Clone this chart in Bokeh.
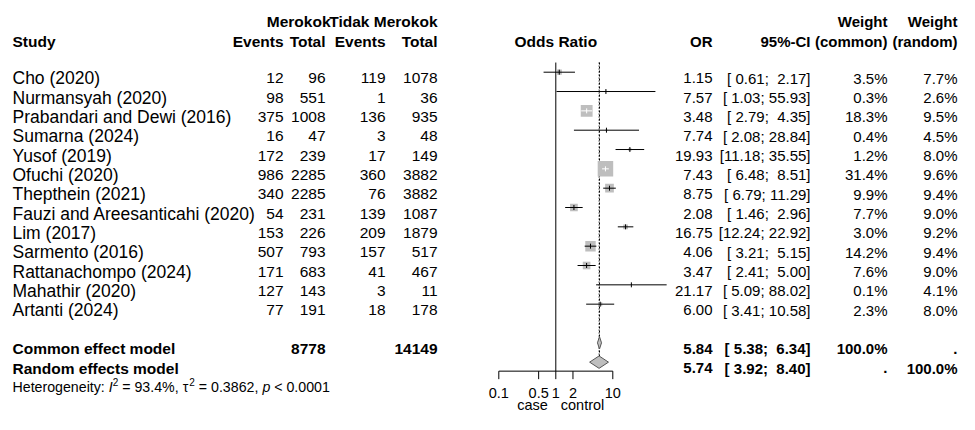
import numpy as np
from bokeh.plotting import figure
from bokeh.models import Range1d, LogScale
from bokeh.core.properties import value
from bokeh.embed import file_html
from bokeh.resources import INLINE

# ---------------- data ----------------
studies = ["Cho (2020)", "Nurmansyah (2020)", "Prabandari and Dewi (2016)", "Sumarna (2024)",
           "Yusof (2019)", "Ofuchi (2020)", "Thepthein (2021)", "Fauzi and Areesanticahi (2020)",
           "Lim (2017)", "Sarmento (2016)", "Rattanachompo (2024)", "Mahathir (2020)", "Artanti (2024)"]
events_e = [12, 98, 375, 16, 172, 986, 340, 54, 153, 507, 171, 127, 77]
total_e = [96, 551, 1008, 47, 239, 2285, 2285, 231, 226, 793, 683, 143, 191]
events_c = [119, 1, 136, 3, 17, 360, 76, 139, 209, 157, 41, 3, 18]
total_c = [1078, 36, 935, 48, 149, 3882, 3882, 1087, 1879, 517, 467, 11, 178]
odds = [1.15, 7.57, 3.48, 7.74, 19.93, 7.43, 8.75, 2.08, 16.75, 4.06, 3.47, 21.17, 6.00]
ci_low = [0.61, 1.03, 2.79, 2.08, 11.18, 6.48, 6.79, 1.46, 12.24, 3.21, 2.41, 5.09, 3.41]
ci_high = [2.17, 55.93, 4.35, 28.84, 35.55, 8.51, 11.29, 2.96, 22.92, 5.15, 5.00, 88.02, 10.58]
weight_common = [3.5, 0.3, 18.3, 0.4, 1.2, 31.4, 9.9, 7.7, 3.0, 14.2, 7.6, 0.1, 2.3]
weight_random = [7.7, 2.6, 9.5, 4.5, 8.0, 9.6, 9.4, 9.0, 9.2, 9.4, 9.0, 4.1, 8.0]

common_model = [5.84, 5.38, 6.34]   # OR, lower, upper
random_model = [5.74, 3.92, 8.40]
het_i2 = "93.4%"
het_tau2 = "0.3862"
het_p = "< 0.0001"

ticks = [0.1, 0.5, 1, 2, 10]
tick_labels = ["0.1", "0.5", "1", "2", "10"]
null_value = 1
label_left, label_right = "case", "control"

# ---------------- layout ----------------
FONT = "Liberation Sans"
FS = "15.5px"       # table numbers / headers
FS_NAME = "17.5px"  # study names
FS_R = "15px"       # right-hand block
Y0, DY = 77.7, 19.33
BASE = 6.0

W_PX, H_PX = 959, 414
Y_SHIFT = 6          # layout coordinates are measured from the top of the picture


def ry(i):
    return Y0 + i * DY


X_ONE, PX_DEC = 555.3, 57.0

p = figure(width=W_PX, height=H_PX, x_range=Range1d(0, W_PX),
           y_range=Range1d(H_PX + Y_SHIFT, Y_SHIFT),
           output_backend="svg", toolbar_location=None, min_border=0, title=None,
           x_axis_location=None, y_axis_location=None)
p.grid.visible = False
p.outline_line_color = None
p.extra_x_ranges = {"or": Range1d(10 ** ((0 - X_ONE) / PX_DEC), 10 ** ((W_PX - X_ONE) / PX_DEC))}
p.extra_x_scales = {"or": LogScale()}


def txt(xs, ys, texts, align="left", bold=False, size=FS, style=None, color="black",
        rng="default", xoff=0):
    p.text(x=list(xs), y=list(ys), text=list(texts), text_align=align,
           text_baseline="alphabetic", text_font=value(FONT), text_font_size=size,
           text_font_style=style if style else ("bold" if bold else "normal"),
           text_color=color, x_range_name=rng, x_offset=xoff)


# column right edges
C_EV1, C_N1, C_EV2, C_N2 = 283, 325, 385, 437
C_OR, C_CI, C_WC, C_WR = 712, 810, 887, 957
X_STUDY = 12

n = len(studies)
rows = [ry(i) for i in range(n)]
tb = [y + BASE for y in rows]

# headers
h1 = 26.7
h2 = 46.7
txt([330, C_N2], [h1] * 2, ["Merokok", "Tidak Merokok"], align="right", bold=True)
txt([C_WC, C_WR], [h1] * 2, ["Weight", "Weight"], align="right", bold=True, size=FS_R)
txt([X_STUDY], [h2], ["Study"], bold=True)
txt([C_EV1, C_N1, C_EV2, C_N2], [h2] * 4, ["Events", "Total", "Events", "Total"],
    align="right", bold=True)
txt([C_OR, C_CI, C_WC, C_WR], [h2] * 4, ["OR", "95%-CI", "(common)", "(random)"],
    align="right", bold=True, size=FS_R)
txt([X_ONE], [h2], ["Odds Ratio"], align="center", bold=True)

# study rows
NB = "\u00a0"


def fmt_ci(lo, hi):
    return ("[%5.2f; %5.2f]" % (lo, hi)).replace(" ", NB)


txt([X_STUDY] * n, tb, studies, size=FS_NAME)
txt([C_EV1] * n, tb, [str(v) for v in events_e], align="right")
txt([C_N1] * n, tb, [str(v) for v in total_e], align="right")
txt([C_EV2] * n, tb, [str(v) for v in events_c], align="right")
txt([C_N2] * n, tb, [str(v) for v in total_c], align="right")
txt([C_OR] * n, tb, ["%.2f" % v for v in odds], align="right", size=FS_R)
txt([C_CI] * n, tb, [fmt_ci(a, b) for a, b in zip(ci_low, ci_high)], align="right", size=FS_R)
txt([C_WC] * n, tb, ["%.1f%%" % v for v in weight_common], align="right", size=FS_R)
txt([C_WR] * n, tb, ["%.1f%%" % v for v in weight_random], align="right", size=FS_R)

# summary rows
yc, yr_ = ry(14), ry(15)
txt([X_STUDY, X_STUDY], [yc + BASE, yr_ + BASE], ["Common effect model", "Random effects model"],
    bold=True)
txt([C_N1, C_N2], [yc + BASE] * 2, [str(sum(total_e)), str(sum(total_c))], align="right",
    bold=True)
txt([C_OR, C_OR], [yc + BASE, yr_ + BASE], ["%.2f" % common_model[0], "%.2f" % random_model[0]],
    align="right", bold=True, size=FS_R)
txt([C_CI, C_CI], [yc + BASE, yr_ + BASE],
    [fmt_ci(common_model[1], common_model[2]), fmt_ci(random_model[1], random_model[2])],
    align="right", bold=True, size=FS_R)
txt([C_WC, C_WR], [yc + BASE] * 2, ["100.0%", "."], align="right", bold=True, size=FS_R)
txt([C_WC, C_WR], [yr_ + BASE] * 2, [".", "100.0%"], align="right", bold=True, size=FS_R)

# heterogeneity line, composed of pieces
W = {' ': 278, 'H': 722, 'e': 556, 't': 278, 'r': 333, 'o': 556, 'g': 556, 'n': 556, 'i': 222,
     'y': 500, ':': 278, 'I': 278, '=': 584, '.': 278, '%': 889, ',': 278, '<': 584, 'p': 556,
     '\u03c4': 470}


def width(s, size):
    return sum(W.get(c, 556) for c in s) / 1000.0 * size


HS = 14.2
SUP = 10.0
hy = ry(16) + BASE
pieces = [("Heterogeneity: ", HS, "normal", 0), ("I", HS, "italic", 0), ("2", SUP, "normal", -5.8),
          (" = " + het_i2 + ", ", HS, "normal", 0), ("\u03c4", HS, "normal", 0),
          ("2", SUP, "normal", -5.8), (" = " + het_tau2 + ", ", HS, "normal", 0),
          ("p", HS, "italic", 0), (" " + het_p, HS, "normal", 0)]
cx = float(X_STUDY)
for s, sz, st, dy in pieces:
    txt([cx], [hy + dy], [s.replace(" ", NB)], size="%.1fpx" % sz, style=st)
    cx += width(s, sz)

# ---------------- forest panel ----------------
wmax = max(weight_common)
side = [15.5 * np.sqrt(w / wmax) for w in weight_common]
inside = [PX_DEC * (np.log10(h) - np.log10(l)) < s for l, h, s in zip(ci_low, ci_high, side)]
lcol = ["white" if f else "black" for f in inside]

top = ry(-0.5)
axis_y = ry(15) + 9.0

# reference line
p.segment(x0=[null_value], y0=[top], x1=[null_value], y1=[axis_y], line_color="black",
          line_width=1, x_range_name="or")
# summary effect lines
p.segment(x0=[common_model[0]], y0=[top], x1=[common_model[0]], y1=[yr_ - 6],
          line_color="black", line_width=1, line_dash="2 2", x_range_name="or")
p.segment(x0=[random_model[0]], y0=[top], x1=[random_model[0]], y1=[yr_ - 6],
          line_color="black", line_width=1, line_dash="1 2", x_range_name="or")

p.scatter(x=odds, y=rows, size=side, marker="square", fill_color="#bebebe", line_color=None,
          x_range_name="or")
p.segment(x0=ci_low, y0=rows, x1=ci_high, y1=rows, line_color=lcol, line_width=1,
          x_range_name="or")
p.segment(x0=odds, y0=[y - 2.5 for y in rows], x1=odds, y1=[y + 2.5 for y in rows],
          line_color=lcol, line_width=1, x_range_name="or")

# diamonds
H = 6.2
p.patches(xs=[[common_model[1], common_model[0], common_model[2], common_model[0]],
              [random_model[1], random_model[0], random_model[2], random_model[0]]],
          ys=[[yc, yc - H, yc, yc + H], [yr_, yr_ - H, yr_, yr_ + H]],
          fill_color="#bebebe", line_color="#555555", line_width=1, x_range_name="or")

# axis
TICK_LEN = 8.0
p.segment(x0=[ticks[0]], y0=[axis_y], x1=[ticks[-1]], y1=[axis_y], line_color="black",
          line_width=1, x_range_name="or")
p.segment(x0=ticks, y0=[axis_y] * len(ticks), x1=ticks, y1=[axis_y + TICK_LEN] * len(ticks),
          line_color="black", line_width=1, x_range_name="or")
txt(ticks, [axis_y + 22.0] * len(ticks), tick_labels, align="center", rng="or", size="14.5px")
txt([null_value], [axis_y + 34.0], [label_left], align="right", rng="or", size="14.5px", xoff=-8)
txt([null_value], [axis_y + 34.0], [label_right], align="left", rng="or", size="14.5px", xoff=5)

open("out.html", "w").write(file_html(p, INLINE))
